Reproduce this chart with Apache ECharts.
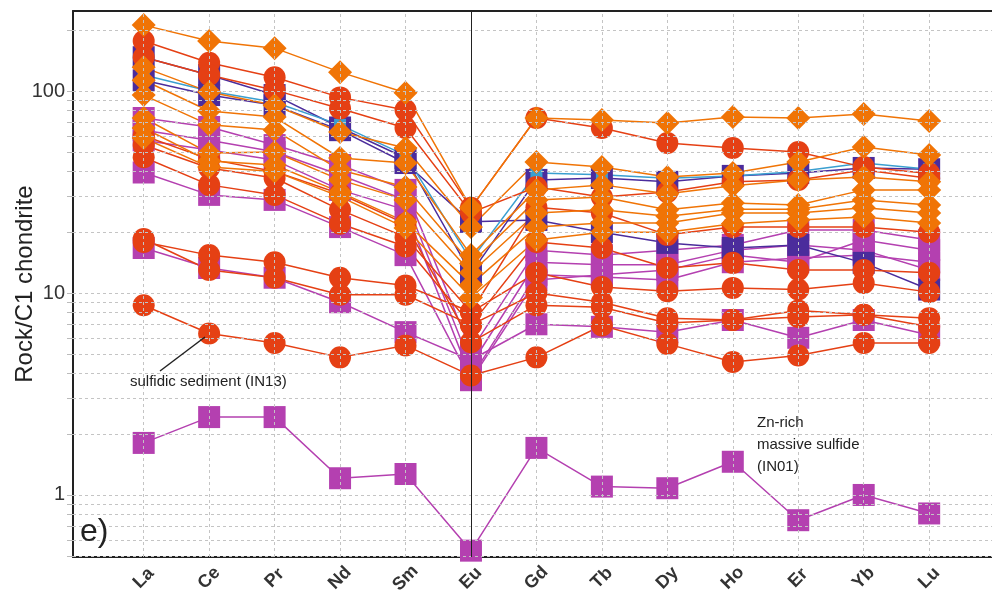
<!DOCTYPE html>
<html>
<head>
<meta charset="utf-8">
<script src="https://cdn.jsdelivr.net/npm/echarts@6/dist/echarts.min.js"></script>
<style>
html, body { margin: 0; padding: 0; background: #fff; }
#chart { width: 992px; height: 597px; }
</style>
</head>
<body>
<div id="chart"></div>
<script>
var elements = ['La', 'Ce', 'Pr', 'Nd', 'Sm', 'Eu', 'Gd', 'Tb', 'Dy', 'Ho', 'Er', 'Yb', 'Lu'];
var yLabelValues = [1, 10, 100];
var minorGrid = [0.5, 0.6, 0.7, 0.8, 0.9, 1, 2, 3, 4, 5, 6, 7, 8, 9, 10, 20, 30, 40, 50, 60, 70, 80, 90, 100, 200];

// orange diamonds
var d1 = [212, 177, 163, 124, 98, 26.4, 73.5, 71.8, 69.5, 74.3, 73.5, 77, 71];
var d2 = [131, 99, 85, 62.7, 52.2, 21.2, 44.5, 42, 37.5, 39.3, 44.5, 52.8, 48.2];
var d3 = [113, 79.6, 74.3, 46.6, 44, 15.4, 32.4, 34.3, 31, 34, 36.3, 37.5, 35.5];
var d4 = [95.5, 68, 64.1, 40.6, 33.5, 14, 28.9, 29.9, 25.8, 27.9, 27.3, 32.4, 32.4];
var d5 = [73.5, 49.3, 49.9, 36.3, 28.9, 12.6, 24.9, 25.8, 24, 26, 26, 28.9, 27.3];
var d6 = [65.6, 45, 43, 31.6, 22.5, 11, 21.2, 22.2, 22.2, 24.9, 24.9, 26.4, 24.9];
var d7 = [58.5, 42, 40, 30, 21, 9.5, 18.3, 20, 20, 22, 23, 23.8, 22.2];

// red circles
var c1 = [177, 138, 117, 93, 80.5, 26.4, 73.5, 65.6, 55.3, 52.2, 49.9, 42, 39];
var c2 = [147, 120, 101, 82, 65.6, 25, 33.5, 29.9, 31.6, 35.5, 36.3, 40.6, 37];
var c3 = [54, 41.6, 37.1, 25.8, 18.9, 8.05, 26.6, 24.9, 19.4, 21.2, 21.2, 21.2, 20];
var c4 = [47, 34.3, 30.6, 22, 17, 6.95, 17.9, 16.7, 13.3, 14.1, 13, 13, 12.6];
var c5 = [17.9, 15.4, 14.2, 11.9, 10.9, 8.05, 12.6, 10.7, 10.2, 10.6, 10.4, 11.2, 10.1];
var c6 = [18.5, 13, 11.9, 9.8, 9.8, 6.95, 10, 9.0, 7.5, 7.35, 8.2, 7.8, 7.5];
var c7 = [8.7, 6.3, 5.65, 4.8, 5.5, 3.9, 4.8, 6.9, 5.6, 4.55, 4.9, 5.65, 5.65]; // IN13
var c8 = [60, 46, 40, 31, 22, 5.7, 8.7, 8.5, 7.1, 7.35, 7.6, 7.8, 6.8];

// purple squares
var p1 = [1.81, 2.43, 2.43, 1.21, 1.27, 0.53, 1.71, 1.1, 1.08, 1.46, 0.75, 1.0, 0.81]; // IN01
var p2 = [16.7, 13.3, 11.9, 9.0, 6.4, 4.66, 7.0, 6.8, 6.4, 7.35, 6.0, 7.35, 6.2];
var p3 = [73.5, 66.4, 54, 43, 32.4, 5.2, 16.3, 15.4, 16.3, 17.3, 20.5, 20.5, 18.3];
var p4 = [64, 57, 50, 38.4, 28.9, 4.4, 14.2, 13.8, 13.8, 16.3, 17.3, 16.3, 13];
var p5 = [57, 51, 45.5, 32.4, 25.8, 3.8, 12.3, 12, 11.6, 14.2, 14.9, 15.4, 14.2];
var p6 = [39.5, 30.6, 28.9, 21.2, 15.4, 3.7, 11.6, 12.3, 13, 15.4, 14.2, 18.3, 16.3];

// dark blue squares, light blue
var b1 = [147, 120, 95.5, 66, 46.6, 12.5, 36.3, 37.1, 35.5, 38, 39.3, 41.6, 41];
var b2 = [113, 95.5, 85, 64, 44, 22.5, 23, 20, 17.7, 16.7, 17.3, 14.1, 10.4];
var lb1 = [120, 100, 88, 68, 48, 14.5, 39.3, 38.5, 37, 38, 40, 44, 41];

var purple = '#b440b0', blue = '#4b2c9c', lightBlue = '#3a9fd0', red = '#e54014', orange = '#f07406';

function mk(name, values, color, symbol, size) {
    return {
        name: name,
        type: 'line',
        data: values.map(function (v, i) { return [i, v]; }),
        symbol: symbol,
        symbolSize: size,
        itemStyle: { color: color, opacity: 1 },
        lineStyle: { color: color, width: 1.5 },
        emphasis: { disabled: true },
        animation: false
    };
}

var series = [];
// helper for grid lines
series.push({
    type: 'line',
    data: [],
    silent: true,
    markLine: {
        silent: true,
        symbol: ['none', 'none'],
        label: { show: false },
        animation: false,
        lineStyle: { color: '#c4c4c4', type: [3, 3], width: 1 },
        data: minorGrid.map(function (v) { return { yAxis: v }; })
            .concat(elements.map(function (e, i) { return { xAxis: i }; }))
    }
});

[p2, p3, p4, p5, p6, p1].forEach(function (d, i) { series.push(mk('p' + i, d, purple, 'rect', 22)); });
[b1, b2].forEach(function (d, i) { series.push(mk('b' + i, d, blue, 'rect', 22)); });
series.push(mk('lb', lb1, lightBlue, 'rect', 12));
[c1, c2, c3, c4, c5, c6, c7, c8].forEach(function (d, i) { series.push(mk('c' + i, d, red, 'circle', 22)); });
[d1, d2, d3, d4, d5, d6, d7].forEach(function (d, i) { series.push(mk('d' + i, d, orange, 'diamond', 24)); });

// Eu line
series.push({
    type: 'line',
    data: [],
    silent: true,
    z: 10,
    markLine: {
        silent: true,
        symbol: ['none', 'none'],
        label: { show: false },
        animation: false,
        lineStyle: { color: '#222', type: 'solid', width: 1 },
        data: [{ xAxis: 5 }]
    }
});

var myChart = echarts.init(document.getElementById('chart'), null, { renderer: 'canvas' });

var option = {
    backgroundColor: '#fff',
    animation: false,
    grid: { left: 73, right: 0, top: 11, bottom: 40, outerBoundsMode: 'none', containLabel: false },
    xAxis: [{
        type: 'value',
        min: -1.08,
        max: 12.96,
        axisLine: { show: true, onZero: false, lineStyle: { color: '#222', width: 2 } },
        axisTick: { show: false },
        splitLine: { show: false },
        axisLabel: {
            customValues: elements.map(function (e, i) { return i; }),
            formatter: function (v) { return elements[Math.round(v)] || ''; },
            rotate: 45,
            align: 'center',
            verticalAlign: 'middle',
            margin: 21,
            fontSize: 18,
            fontWeight: 'bold',
            fontFamily: 'Liberation Sans, Arial, sans-serif',
            color: '#333'
        }
    }, {
        type: 'value',
        position: 'top',
        min: -1.08,
        max: 12.96,
        axisLine: { show: true, onZero: false, lineStyle: { color: '#222', width: 2 } },
        axisTick: { show: false },
        axisLabel: { show: false },
        splitLine: { show: false }
    }],
    yAxis: {
        type: 'log',
        logBase: 10,
        min: 0.493,
        max: 249,
        name: 'Rock/C1 chondrite',
        nameLocation: 'middle',
        nameGap: 36,
        nameMoveOverlap: false,
        nameTextStyle: { fontSize: 24, color: '#222', fontFamily: 'Liberation Sans, Arial, sans-serif' },
        axisLine: { show: true, onZero: false, lineStyle: { color: '#222', width: 2 } },
        axisTick: { show: true, length: 6, customValues: minorGrid, lineStyle: { color: '#bbb' } },
        splitLine: { show: false },
        axisLabel: {
            fontSize: 20,
            color: '#333',
            margin: 8,
            fontFamily: 'Liberation Sans, Arial, sans-serif',
            formatter: function (v) {
                for (var i = 0; i < yLabelValues.length; i++) {
                    if (Math.abs(v - yLabelValues[i]) < 1e-6 * yLabelValues[i]) return String(yLabelValues[i]);
                }
                return '';
            }
        }
    },
    graphic: [
        { type: 'text', left: 130, top: 374, style: { text: 'sulfidic sediment (IN13)', fontSize: 15, fill: '#222', fontFamily: 'Liberation Sans, Arial, sans-serif' }, z: 100 },
        { type: 'line', shape: { x1: 160, y1: 371, x2: 205, y2: 337 }, style: { stroke: '#222', lineWidth: 1.5 }, z: 100 },
        { type: 'text', left: 757, top: 412, style: { text: 'Zn-rich\nmassive sulfide\n(IN01)', fontSize: 15, lineHeight: 22, fill: '#222', fontFamily: 'Liberation Sans, Arial, sans-serif' }, z: 100 },
        { type: 'text', left: 80, top: 516, style: { text: 'e)', fontSize: 32, fill: '#222', fontFamily: 'Liberation Sans, Arial, sans-serif' }, z: 100 }
    ],
    series: series
};

myChart.setOption(option);
window.addEventListener('resize', myChart.resize);
</script>
</body>
</html>
